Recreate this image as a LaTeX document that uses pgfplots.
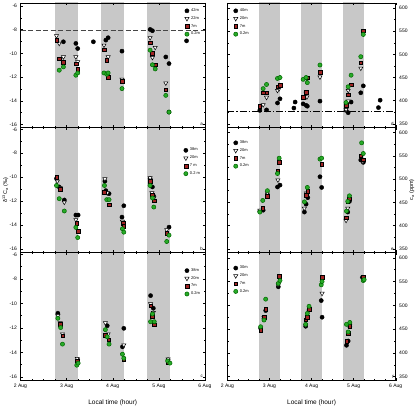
\documentclass[border=0pt]{standalone}
\usepackage{fontspec}
\setmainfont{Liberation Sans}
\usepackage{pgfplots}
\pgfplotsset{compat=1.18}
\definecolor{bandgray}{RGB}{200,200,200}
\definecolor{redsq}{RGB}{160,35,35}
\definecolor{greenc}{RGB}{40,170,40}
\pgfplotsset{
 every axis/.append style={scale only axis, font=\fontsize{5}{6}\selectfont, tick align=inside,
   major tick length=2.5pt, minor tick length=1.4pt, axis on top, /pgf/number format/assume math mode=true,
   xmin=2, xmax=6, xtick={2,3,4,5,6}, minor x tick num=3, clip=true, axis line style={line width=0.6pt},
   every tick/.style={black, line width=0.4pt},
   legend style={draw=none, fill=none, font=\fontsize{4}{4.5}\selectfont, row sep=-0.5pt, inner sep=1pt},
   legend cell align=left, anchor=north west},
 leftax/.style={width=184.5pt, ymin=-16.3, ymax=-5.85, ytick={-16,-14,...,-6}, minor y tick num=1},
 rightax/.style={width=168.3pt, ymin=342, ymax=611, ytick={350,400,...,600}, minor y tick num=1, yticklabel pos=right},
 s1/.style={only marks, mark=*, mark size=2.1pt, mark options={fill=black, draw=black}},
 s2/.style={only marks, mark=triangle*, mark size=2.4pt, mark options={rotate=180, fill=white, draw=black, line width=0.5pt}},
 s3/.style={only marks, mark=square*, mark size=1.8pt, mark options={fill=redsq, draw=black, line width=0.3pt}},
 s4/.style={only marks, mark=*, mark size=2.1pt, mark options={fill=greenc, draw=black!60!green, line width=0.5pt}},
 bandL/.style={draw=none, fill=bandgray, forget plot},
}
\newcommand{\bandsL}{%
 \addplot[bandL] coordinates {(2.75,-30) (3.25,-30) (3.25,0) (2.75,0)} --cycle;
 \addplot[bandL] coordinates {(3.75,-30) (4.25,-30) (4.25,0) (3.75,0)} --cycle;
 \addplot[bandL] coordinates {(4.75,-30) (5.25,-30) (5.25,0) (4.75,0)} --cycle;}
\newcommand{\bandsR}{%
 \addplot[bandL] coordinates {(2.75,0) (3.25,0) (3.25,1000) (2.75,1000)} --cycle;
 \addplot[bandL] coordinates {(3.75,0) (4.25,0) (4.25,1000) (3.75,1000)} --cycle;
 \addplot[bandL] coordinates {(4.75,0) (5.25,0) (5.25,1000) (4.75,1000)} --cycle;}
\newcommand{\plab}[1]{\node[anchor=south east, font=\fontsize{4.5}{5}\selectfont, inner sep=1pt] at (rel axis cs:0.995,0.01) {#1};}
\begin{document}
\begin{tikzpicture}
\useasboundingbox (0,0) rectangle (419pt,408pt);
% ---------------- panel a ----------------
\begin{axis}[leftax, at={(20.5pt,405pt)}, height=124.5pt, ymin=-16.25, ymax=-5.75, xticklabels={},
  legend style={at={(0.99,0.98)}, anchor=north east}]
\bandsL
\addplot[gray!55!black, dash pattern=on 5pt off 2.5pt, line width=0.9pt, forget plot] coordinates {(2,-8.05) (6,-8.05)};
\addplot[s1] coordinates {(2.93,-9.02) (3.20,-9.16) (3.24,-9.59) (3.58,-9.02) (3.85,-8.88) (3.90,-8.68) (4.20,-9.81) (4.81,-7.98) (4.86,-8.09) (5.15,-10.3) (5.22,-10.86) (5.60,-8.94) (5.22,-14.95)};
\addplot[s2] coordinates {(2.78,-8.52) (2.84,-9.16) (2.93,-10.3) (3.20,-10.3) (3.24,-10.72) (3.81,-9.31) (3.90,-10.3) (4.20,-12.19) (4.81,-8.68) (4.86,-10.35) (4.92,-9.5) (5.15,-12.5)};
\addplot[s3] coordinates {(2.78,-8.88) (2.84,-10.43) (2.93,-10.73) (3.20,-10.86) (3.24,-11.35) (3.81,-9.67) (3.87,-10.58) (3.90,-11.98) (4.20,-12.36) (4.81,-9.08) (4.86,-10.0) (4.92,-10.96) (5.15,-13.06)};
\addplot[s4] coordinates {(2.84,-11.42) (2.93,-11.14) (3.20,-11.84) (3.24,-11.65) (3.81,-11.65) (3.87,-11.76) (3.90,-11.65) (4.20,-12.97) (4.81,-9.73) (4.86,-10.96) (4.92,-11.31) (5.15,-13.54) (5.22,-14.95)};
\legend{42m,22m,7m,0.2m}
\plab{a}
\end{axis}
% ---------------- panel b ----------------
\begin{axis}[leftax, at={(20.5pt,280.5pt)}, height=125pt, xticklabels={},
  ylabel={δ\textsuperscript{13}C\textsubscript{a} (‰)},
  ylabel style={font=\fontsize{5.5}{6.5}\selectfont, at={(axis description cs:-0.062,0.5)}, anchor=south, inner sep=0.5pt},
  legend style={at={(0.99,0.86)}, anchor=north east}]
\bandsL
\addplot[s1] coordinates {(2.78,-10.12) (2.84,-10.82) (2.95,-11.91) (3.20,-13.17) (3.25,-13.17) (3.83,-10.34) (3.85,-11.13) (3.92,-11.38) (4.20,-13.34) (4.24,-12.39) (4.81,-10.12) (4.86,-10.82) (4.89,-11.6) (5.22,-14.18)};
\addplot[s2] coordinates {(2.80,-10.34) (2.86,-10.9) (2.95,-12.1) (3.20,-13.56) (3.83,-10.15) (3.88,-11.32) (4.21,-13.7) (4.81,-10.06) (4.85,-11.32) (4.89,-11.74) (5.17,-14.4)};
\addplot[s3] coordinates {(2.78,-9.98) (2.86,-10.99) (3.22,-13.84) (3.25,-14.5) (3.82,-11.27) (3.92,-12.3) (4.23,-13.84) (4.24,-14.12) (4.81,-10.34) (4.85,-11.46) (4.90,-11.97) (5.17,-14.68)};
\addplot[s4] coordinates {(2.78,-10.7) (2.84,-11.8) (2.95,-12.83) (3.20,-14.2) (3.24,-15.05) (3.82,-10.7) (3.87,-11.88) (3.92,-11.88) (4.21,-14.32) (4.24,-14.6) (4.81,-10.7) (4.86,-11.74) (4.89,-12.5) (5.17,-15.38) (5.22,-14.85)};
\legend{38m,20m,7 m,0.2 m}
\plab{b}
\end{axis}
% ---------------- panel c ----------------
\begin{axis}[leftax, at={(20.5pt,155.5pt)}, height=128pt, xticklabels={2 Aug,3 Aug,4 Aug,5 Aug,6 Aug},
  xlabel={Local time (hour)}, xlabel style={font=\fontsize{6.5}{7.5}\selectfont, yshift=-4pt},
  legend style={at={(0.99,0.90)}, anchor=north east}]
\bandsL
\addplot[s1] coordinates {(2.81,-10.81) (3.24,-14.61) (3.88,-11.83) (4.21,-13.55) (4.24,-12.04) (4.82,-9.37) (4.88,-10.4) (5.20,-14.61)};
\addplot[s2] coordinates {(2.81,-11.0) (2.86,-11.6) (2.91,-12.5) (3.23,-14.5) (3.84,-11.6) (3.90,-12.5) (4.24,-13.4) (4.82,-10.05) (4.88,-10.75) (5.20,-14.55)};
\addplot[s3] coordinates {(2.86,-11.69) (2.91,-12.64) (3.23,-14.69) (3.84,-12.59) (3.91,-12.97) (4.24,-14.56) (4.82,-10.19) (4.86,-11.06) (4.90,-11.74) (5.20,-14.83)};
\addplot[s4] coordinates {(2.81,-11.22) (2.87,-11.98) (2.91,-13.33) (3.22,-15.05) (3.25,-14.88) (3.84,-12.15) (3.88,-12.73) (3.92,-13.33) (4.21,-14.15) (4.24,-14.48) (4.82,-11.5) (4.86,-10.87) (4.90,-11.5) (5.19,-14.7) (5.24,-14.88)};
\legend{38m,20m,7m,0.2m}
\plab{c}
\end{axis}
% ---------------- panel d ----------------
\begin{axis}[rightax, at={(227.4pt,405pt)}, height=124.5pt, xticklabels={},
  legend style={at={(0.03,0.98)}, anchor=north west}]
\bandsR
\addplot[black, dash pattern=on 7pt off 2pt on 1.2pt off 2pt, line width=0.7pt, forget plot] coordinates {(2,376) (6,376)};
\addplot[s1] coordinates {(2.77,379) (2.93,380) (3.19,395) (3.25,404) (3.58,384) (3.61,397) (3.80,393) (3.87,390) (3.90,388) (4.20,399) (4.82,379) (4.87,374) (4.94,397) (5.17,417) (5.23,432) (5.59,385) (5.63,401)};
\addplot[s2] coordinates {(2.85,391) (2.93,407) (3.19,422) (3.23,426) (3.89,408) (3.87,416) (3.89,447) (4.20,451) (4.82,381) (4.87,399) (4.87,422) (5.17,470)};
\addplot[s3] coordinates {(2.77,388) (2.85,417) (2.93,417) (3.19,430) (3.25,433) (3.80,407) (3.87,419) (3.90,450) (4.20,462) (4.82,390) (4.87,413) (4.94,435) (5.17,482) (5.23,551)};
\addplot[s4] coordinates {(2.85,426) (2.93,435) (3.19,448) (3.25,450) (3.80,446) (3.87,450) (3.90,439) (4.20,477) (4.82,396) (4.87,430) (4.94,455) (5.17,495) (5.23,543)};
\legend{40m,20m,7m,0.2m}
\plab{d}
\end{axis}
% ---------------- panel e ----------------
\begin{axis}[rightax, at={(227.4pt,280.5pt)}, height=125pt, xticklabels={},
  ylabel={c\textsubscript{a} (ppm)},
  ylabel style={font=\fontsize{5.5}{6.5}\selectfont, at={(axis description cs:1.076,0.5)}, anchor=north, rotate=0, inner sep=0.5pt},
  legend style={at={(0.03,0.92)}, anchor=north west}]
\bandsR
\addplot[s1] coordinates {(2.77,431) (2.85,433) (2.95,467) (3.19,483) (3.25,487) (3.83,429) (3.87,446) (3.91,460) (4.20,505) (4.24,482) (4.86,429) (4.90,452) (5.17,541) (5.23,536)};
\addplot[s2] coordinates {(2.77,433) (2.95,470) (3.20,498) (3.83,437) (3.88,470) (4.82,411) (4.86,437) (5.22,538)};
\addplot[s3] coordinates {(2.84,437) (2.95,463) (3.19,517) (3.23,536) (3.87,465) (3.91,474) (4.24,532) (4.82,417) (4.86,451) (4.90,458) (5.17,550) (5.23,542)};
\addplot[s4] coordinates {(2.77,429) (2.84,454) (2.95,475) (3.19,512) (3.23,545) (3.83,451) (3.90,482) (4.20,543) (4.24,545) (4.83,431) (4.86,452) (4.90,464) (5.19,578) (5.23,555)};
\legend{38m,20m,7m,0.2m}
\plab{e}
\end{axis}
% ---------------- panel f ----------------
\begin{axis}[rightax, at={(227.4pt,155.5pt)}, height=128pt, xticklabels={2 Aug,3 Aug,4 Aug,5 Aug,6 Aug},
  xlabel={Local time (hour)}, xlabel style={font=\fontsize{6.5}{7.5}\selectfont, yshift=-4pt},
  legend style={at={(0.03,0.92)}, anchor=north west}]
\bandsR
\addplot[s1] coordinates {(2.79,452) (2.87,472) (2.91,489) (3.21,539) (3.86,456) (3.94,490) (4.23,510) (4.25,475) (4.83,416) (4.87,425) (4.91,455) (5.21,559)};
\addplot[s2] coordinates {(2.87,474) (3.21,543) (3.86,458) (4.25,525) (4.91,458) (5.21,556)};
\addplot[s3] coordinates {(2.79,448) (2.87,475) (2.91,492) (3.23,561) (3.86,470) (3.90,475) (3.94,492) (4.25,559) (4.83,425) (4.87,441) (4.91,456) (5.23,559)};
\addplot[s4] coordinates {(2.79,455) (2.87,469) (2.91,513) (3.21,546) (3.25,552) (3.86,460) (3.90,483) (3.94,498) (4.23,543) (4.25,550) (4.83,460) (4.87,444) (4.91,464) (5.23,552) (5.25,554)};
\legend{30m,20m,7m,0.2m}
\plab{f}
\end{axis}
\end{tikzpicture}
\end{document}
